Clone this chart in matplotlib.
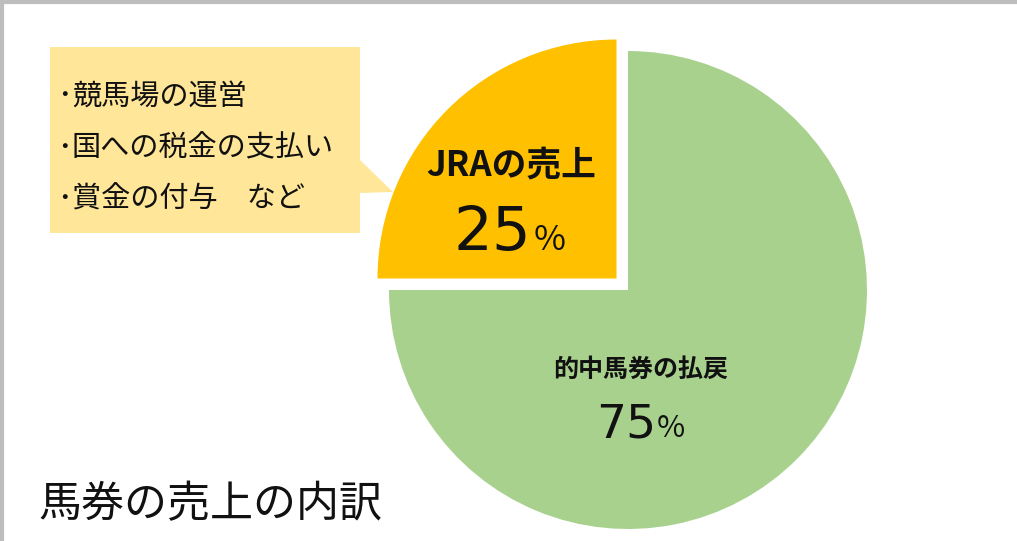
import matplotlib
matplotlib.use("Agg")
import matplotlib.pyplot as plt
from matplotlib.patches import Polygon

plt.rcParams['font.family'] = ['Noto Sans CJK JP', 'DejaVu Sans']

# data
labels = ["JRAの売上", "的中馬券の払戻"]
shares = [25, 75]
colors = ["#FFC000", "#A9D18E"]
explode = [0.068, 0]   # fraction of radius
notes = ["競馬場の運営", "国への税金の支払い", "賞金の付与\u3000など"]
title = "馬券の売上の内訳"

W, H = 1017, 541
fig = plt.figure(figsize=(W / 100, H / 100), dpi=100)
ax = fig.add_axes([0, 0, 1, 1])

cx, cy, r = 628, 251, 239
ax.pie(shares, colors=colors, explode=[e * r for e in explode], startangle=90,
       center=(cx, cy), radius=r, counterclock=True,
       wedgeprops=dict(linewidth=0))
ax.set_xlim(0, W)
ax.set_ylim(0, H)
ax.set_aspect('equal')
ax.axis('off')

dark = '#111111'
# slice labels
ax.text(511, 376, labels[0], ha='center', va='center', fontsize=25,
        fontweight='bold', color=dark)
ax.text(531, 291, str(shares[0]), ha='right', va='baseline', fontsize=44,
        color=dark, family='DejaVu Sans')
ax.text(534, 291, "%", ha='left', va='baseline', fontsize=25, color=dark)

ax.text(641, 171, labels[1], ha='center', va='center', fontsize=18,
        fontweight='bold', color=dark)
ax.text(656, 104, str(shares[1]), ha='right', va='baseline', fontsize=34,
        color=dark, family='DejaVu Sans')
ax.text(657, 104, "%", ha='left', va='baseline', fontsize=22, color=dark)

# callout box
box = Polygon([(50, 308), (50, 494), (360, 494), (360, 381),
               (393, 349), (360, 348), (360, 308)], closed=True,
              facecolor='#FFE699', edgecolor='none')
ax.add_patch(box)
for i, line in enumerate(notes):
    y = 444 - i * 51.5
    ax.text(64, y, "･", ha='center', va='center', fontsize=21, color=dark)
    ax.text(72, y, line, ha='left', va='center', fontsize=21, color=dark)

# title
ax.text(38, 36, title, ha='left', va='center', fontsize=31, color=dark)

# frame lines
ax.plot([0, W], [H - 1.5, H - 1.5], color='#BDBDBD', lw=3, solid_capstyle='butt')
ax.plot([1.5, 1.5], [0, H], color='#BDBDBD', lw=3, solid_capstyle='butt')

fig.savefig("out.png", dpi=100)
